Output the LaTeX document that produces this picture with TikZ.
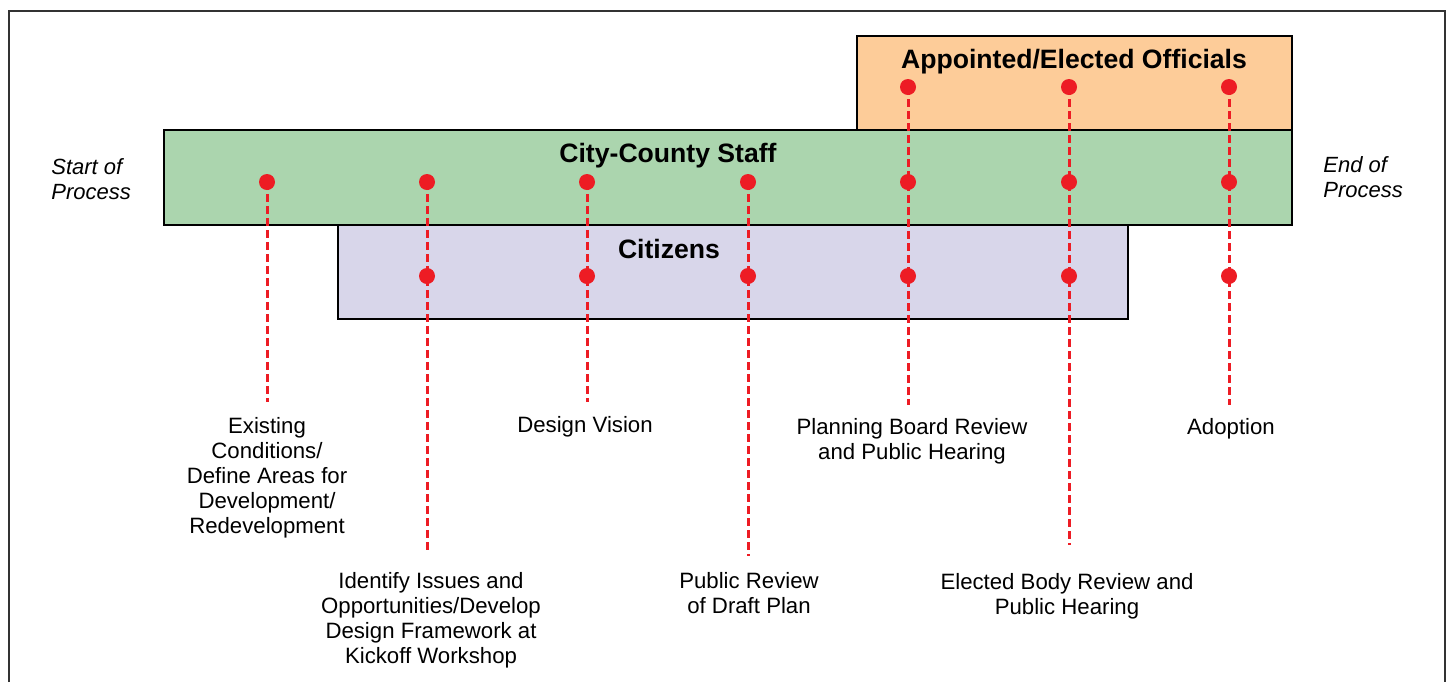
\documentclass[tikz,border=0pt]{standalone}
\usepackage{fontspec}
\setmainfont{Liberation Sans}
\usetikzlibrary{backgrounds}

\definecolor{officialfill}{RGB}{253,204,153}
\definecolor{stafffill}{RGB}{171,213,174}
\definecolor{citizenfill}{RGB}{216,214,234}
\definecolor{dotred}{RGB}{237,28,36}
\definecolor{framegray}{RGB}{51,51,51}

\tikzset{
  lane/.style={draw=black, line width=0.9pt},
  lanetitle/.style={anchor=base, inner sep=0pt, font=\fontsize{13.3}{15}\selectfont\bfseries},
  milestone/.style={circle, fill=dotred, inner sep=0pt, minimum size=8pt},
  guide/.style={draw=dotred, line width=1.5pt, dash pattern=on 4pt off 2pt},
  steplabel/.style={align=center, anchor=north, inner sep=0pt, font=\fontsize{11.1}{12.5}\selectfont},
  endlabel/.style={align=left, anchor=north west, inner sep=0pt, font=\fontsize{11}{12.5}\selectfont\itshape}
}

\begin{document}
\begin{tikzpicture}[x=0.5pt,y=-0.5pt]
  \useasboundingbox (0,0) rectangle (1448,682);
  \draw[framegray, line width=1pt] (8.5,682) -- (8.5,11) -- (1444.5,11) -- (1444.5,682);

  % lane titles
  \node[lanetitle] (officials) at (1074,68) {Appointed/Elected Officials};
  \node[lanetitle] (staff) at (668,162) {City-County Staff};
  \node[lanetitle] (citizens) at (669,258) {Citizens};

  % milestones
  \foreach \x [count=\i] in {267,427,587,748,908,1069,1229}
    \node[milestone] (s\i) at (\x,182) {};
  \foreach \x [count=\i from 2] in {427,587,748,908,1069,1229}
    \node[milestone] (c\i) at (\x,276) {};
  \foreach \x [count=\i from 5] in {908,1069,1229}
    \node[milestone] (o\i) at (\x,87) {};

  % ends of the guides
  \foreach \x/\y [count=\i] in {267/402,427/552,587/402,748/556,908/405,1069/545,1229/405}
    \coordinate (e\i) at (\x,\y);

  \begin{scope}[on background layer]
    \draw[lane, fill=officialfill] (857,36) rectangle (1292,130);
    \draw[lane, fill=stafffill] (164,130) rectangle (1292,225);
    \draw[lane, fill=citizenfill] (338,225) rectangle (1128,319);
    \foreach \i in {1,...,4}
      \draw[guide] (s\i.center) -- (e\i);
    \foreach \i in {5,6,7}
      \draw[guide] (o\i.center) -- (e\i);
  \end{scope}

  % step labels
  \node[steplabel] (existing) at (267,417) {Existing\\Conditions/\\Define Areas for\\Development/\\Redevelopment};
  \node[steplabel] (identify) at (431,572) {Identify Issues and\\Opportunities/Develop\\Design Framework at\\Kickoff Workshop};
  \node[steplabel] (vision) at (585,416) {Design Vision};
  \node[steplabel] (review) at (749,572) {Public Review\\of Draft Plan};
  \node[steplabel] (planning) at (912,418) {Planning Board Review\\and Public Hearing};
  \node[steplabel] (elected) at (1067,573) {Elected Body Review and\\Public Hearing};
  \node[steplabel] (adoption) at (1231,418) {Adoption};

  \node[endlabel] (start) at (51,158) {Start of\\Process};
  \node[endlabel] (end) at (1323,156) {End of\\Process};
\end{tikzpicture}
\end{document}
